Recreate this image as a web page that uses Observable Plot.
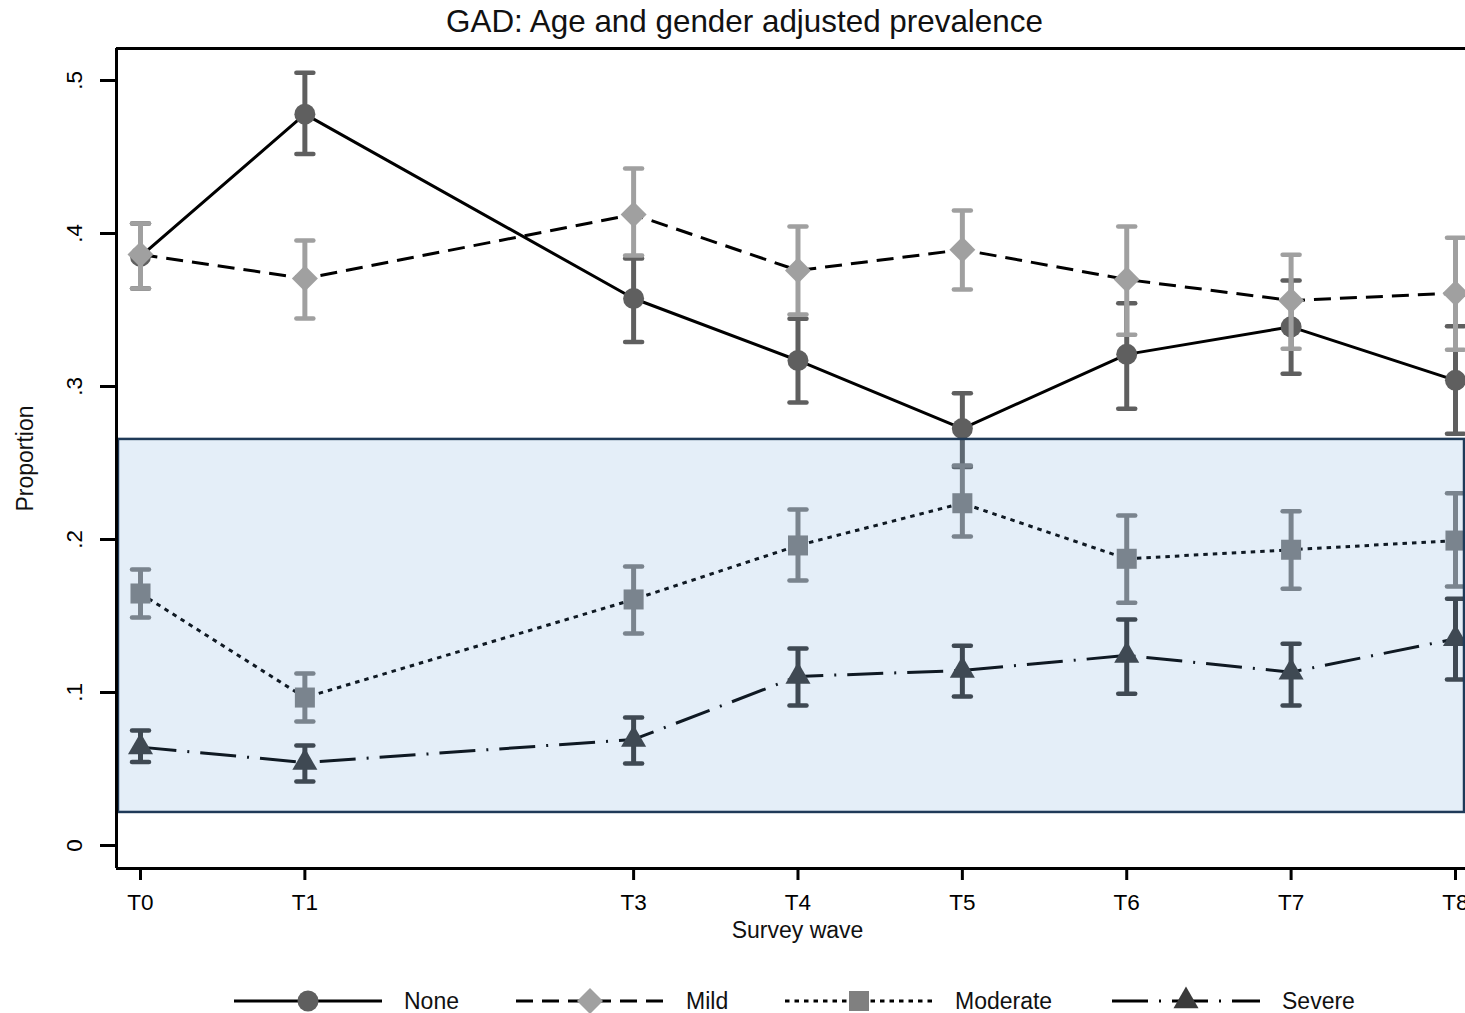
<!DOCTYPE html>
<html>
<head>
<meta charset="utf-8">
<script src="https://cdn.jsdelivr.net/npm/d3@7"></script>
<script src="https://cdn.jsdelivr.net/npm/@observablehq/plot@0.6"></script>
<style>
  html, body { margin: 0; padding: 0; background: #fff; }
  body { width: 1465px; overflow: hidden; font-family: "Liberation Sans", Arial, sans-serif; }
  #title { height: 44px; line-height: 44px; font-size: 31.4px; text-align: center; padding-left: 24px; color: #111; white-space: nowrap; }
  #chart svg, #legend svg { display: block; }
</style>
</head>
<body>
<div id="title">GAD: Age and gender adjusted prevalence</div>
<div id="chart"></div>
<div id="legend"></div>
<script>
// ---------------- data ----------------
const waveLabels = ["T0", "T1", "T3", "T4", "T5", "T6", "T7", "T8"];
const waveNums   = [0, 1, 3, 4, 5, 6, 7, 8];
const seriesNames = ["None", "Mild", "Moderate", "Severe"];

const noneEst = [0.385, 0.478, 0.3575, 0.317, 0.2725, 0.321, 0.339, 0.304];
const noneLo  = [0.364, 0.452, 0.329, 0.2895, 0.2473, 0.2854, 0.3083, 0.2691];
const noneHi  = [0.4065, 0.505, 0.3837, 0.3442, 0.2956, 0.3544, 0.3693, 0.3394];

const mildEst = [0.3863, 0.3706, 0.4124, 0.3758, 0.3894, 0.3699, 0.3562, 0.361];
const mildLo  = [0.364, 0.3444, 0.3856, 0.3471, 0.3634, 0.3338, 0.3246, 0.324];
const mildHi  = [0.4065, 0.3954, 0.4425, 0.4046, 0.415, 0.4046, 0.3861, 0.3972];

const modEst = [0.1647, 0.0967, 0.1608, 0.1961, 0.2237, 0.1874, 0.1933, 0.1993];
const modLo  = [0.149, 0.081, 0.1386, 0.1732, 0.202, 0.1586, 0.1678, 0.1693];
const modHi  = [0.1804, 0.1124, 0.1824, 0.2196, 0.2484, 0.2157, 0.2185, 0.2303];

const sevEst = [0.0643, 0.0542, 0.0693, 0.1105, 0.1144, 0.1242, 0.1133, 0.1351];
const sevLo  = [0.0545, 0.0418, 0.0536, 0.0915, 0.0974, 0.0992, 0.0915, 0.1085];
const sevHi  = [0.0752, 0.0654, 0.0837, 0.1288, 0.1305, 0.1477, 0.1318, 0.1612];

const yTicks = [0, 0.1, 0.2, 0.3, 0.4, 0.5];
const yTickLabels = ["0", ".1", ".2", ".3", ".4", ".5"];

// shaded highlight region (data units): x from, x to, y from, y to
const highlightX = [-0.134, 8.055];
const highlightY = [0.0216, 0.2654];

// ---------------- styling ----------------
const seriesStyle = {
  None:     {color: "#5f5f5f", dash: null,            symbol: "circle",   r: 10.5},
  Mild:     {color: "#a0a0a0", dash: "17,9",          symbol: "diamond2", r: 11.7},
  Moderate: {color: "#808080", dash: "4.5,5",         symbol: "square",   r: 11.3},
  Severe:   {color: "#3a3a3a", dash: "36,11,2,11",    symbol: "triangle", r: 9.3}
};
const capSymbol = {draw(ctx) { ctx.moveTo(-8.5, 0); ctx.lineTo(8.5, 0); }};

const estArrays = {None: [noneEst, noneLo, noneHi], Mild: [mildEst, mildLo, mildHi],
                   Moderate: [modEst, modLo, modHi], Severe: [sevEst, sevLo, sevHi]};

const rowsBySeries = {};
for (const s of seriesNames) {
  const [e, lo, hi] = estArrays[s];
  rowsBySeries[s] = waveNums.map((x, i) => ({series: s, wave: waveLabels[i], x, est: e[i], lo: lo[i], hi: hi[i]}));
}

const xDomain = [-0.146, 8.061];
const yDomain = [-0.01503, 0.5209];

const marks = [];
for (const s of seriesNames) {
  const st = seriesStyle[s];
  const rows = rowsBySeries[s];
  marks.push(Plot.ruleX(rows, {x: "x", y1: "lo", y2: "hi", stroke: st.color, strokeWidth: 5}));
  marks.push(Plot.dot(rows, {x: "x", y: "lo", symbol: capSymbol, stroke: st.color, fill: "none", strokeWidth: 4.5, strokeLinecap: "round"}));
  marks.push(Plot.dot(rows, {x: "x", y: "hi", symbol: capSymbol, stroke: st.color, fill: "none", strokeWidth: 4.5, strokeLinecap: "round"}));
  marks.push(Plot.line(rows, {x: "x", y: "est", stroke: "#000", strokeWidth: 3, strokeLinecap: "butt", strokeLinejoin: "miter", strokeDasharray: st.dash}));
  marks.push(Plot.dot(rows, {x: "x", y: "est", symbol: st.symbol, r: st.r, fill: st.color, stroke: "none"}));
}

// highlight overlay
marks.push(Plot.rect([{x1: highlightX[0], x2: highlightX[1], y1: highlightY[0], y2: highlightY[1]}],
  {x1: "x1", x2: "x2", y1: "y1", y2: "y2", fill: "rgb(92,152,212)", fillOpacity: 0.165, stroke: "#1f3a58", strokeWidth: 2.5}));

// frame lines
marks.push(Plot.ruleY([yDomain[1]], {stroke: "#000", strokeWidth: 3}));
marks.push(Plot.ruleY([yDomain[0]], {stroke: "#000", strokeWidth: 3}));
marks.push(Plot.ruleX([xDomain[0]], {stroke: "#000", strokeWidth: 3}));

// axes
marks.push(Plot.axisX({ticks: waveNums, tickFormat: d => waveLabels[waveNums.indexOf(d)], tickSize: 12, tickPadding: 14, fontSize: 22.5, strokeWidth: 3, label: null}));
marks.push(Plot.axisY({ticks: yTicks, tickFormat: d => yTickLabels[yTicks.indexOf(d)], tickSize: 16, tickPadding: 19, tickRotate: -90, fontSize: 22.5, strokeWidth: 3, label: null}));
marks.push(Plot.text(["Proportion"], {frameAnchor: "left", rotate: -90, dx: -91, textAnchor: "middle", lineAnchor: "middle", fontSize: 23, fill: "#111"}));
marks.push(Plot.text(["Survey wave"], {frameAnchor: "bottom", dx: 6.5, dy: 62, textAnchor: "middle", lineAnchor: "middle", fontSize: 23, fill: "#111"}));

const chart = Plot.plot({
  width: 1465,
  height: 940,
  marginTop: 4,
  marginBottom: 116,
  marginLeft: 116,
  marginRight: 0,
  x: {type: "linear", domain: xDomain, axis: null},
  y: {type: "linear", domain: yDomain, axis: null},
  style: {fontFamily: "'Liberation Sans', Arial, sans-serif", color: "#000", background: "#fff", overflow: "visible"},
  marks
});
document.getElementById("chart").appendChild(chart);

// ---------------- legend ----------------
const legendX = [234, 516, 785, 1112];
const lw = 1465, lh = 29, cy = 17;
const lsvg = d3.select("#legend").append("svg").attr("width", lw).attr("height", lh)
  .style("font-family", "'Liberation Sans', Arial, sans-serif");
seriesNames.forEach((s, i) => {
  const st = seriesStyle[s];
  const g = lsvg.append("g").attr("transform", `translate(${legendX[i]},${cy})`);
  g.append("line").attr("x1", 0).attr("x2", 148).attr("y1", 0).attr("y2", 0)
    .attr("stroke", "#000").attr("stroke-width", 3)
    .attr("stroke-dasharray", st.dash || null);
  const symMap = {circle: d3.symbolCircle, diamond2: d3.symbolDiamond2, square: d3.symbolSquare, triangle: d3.symbolTriangle};
  g.append("path").attr("transform", "translate(74,0)")
    .attr("d", d3.symbol(symMap[st.symbol], Math.PI * st.r * st.r)())
    .attr("fill", st.color);
  g.append("text").attr("x", 170).attr("y", 0).attr("dy", "0.35em")
    .attr("font-size", 23).attr("fill", "#111").text(s);
});
</script>
</body>
</html>
